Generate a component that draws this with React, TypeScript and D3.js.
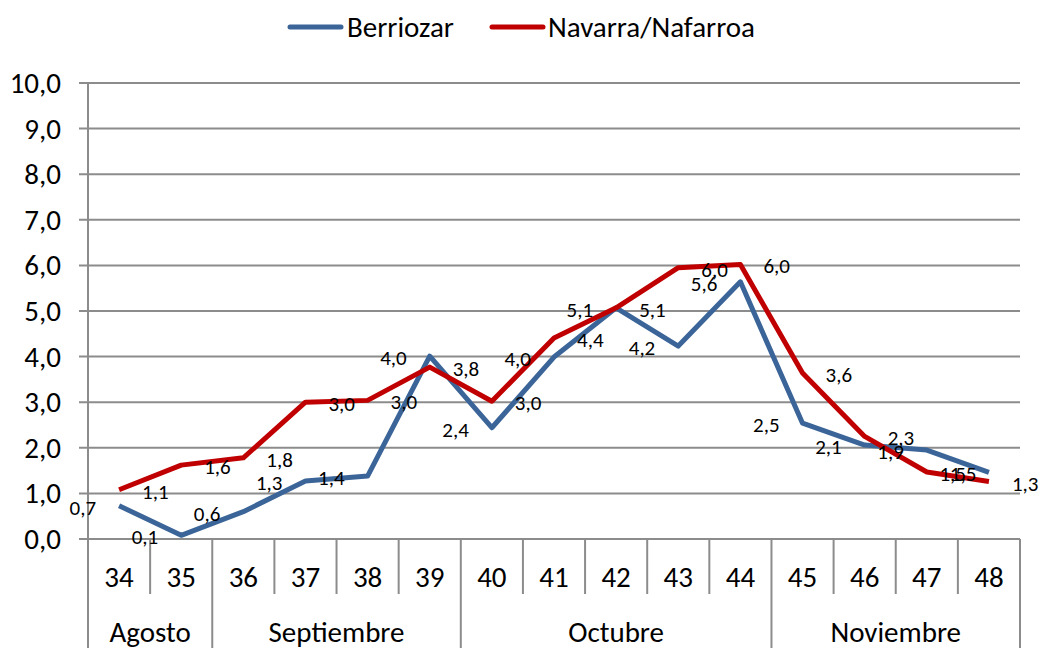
import * as d3 from "d3";

const weeks = ["34", "35", "36", "37", "38", "39", "40", "41", "42", "43", "44", "45", "46", "47", "48"];
const monthNames = ["Agosto", "Septiembre", "Octubre", "Noviembre"];
const monthSpans = [2, 4, 5, 4];
const berriozar = [0.73, 0.08, 0.6, 1.27, 1.38, 4.01, 2.44, 3.99, 5.07, 4.23, 5.64, 2.54, 2.06, 1.95, 1.46];
const navarra = [1.08, 1.62, 1.78, 3.0, 3.04, 3.77, 3.02, 4.41, 5.07, 5.95, 6.02, 3.64, 2.25, 1.47, 1.26];
const yTicks = [0, 1, 2, 3, 4, 5, 6, 7, 8, 9, 10];

const W = 1041;
const H = 648;
const FONT = "Calibri, Carlito, 'Liberation Sans', Arial, sans-serif";
const BLUE = "#3b6598";
const RED = "#c00000";
const GRID = "#8c8c8c";
const BIG = 29;
const SMALL = 21;

const fmt = (v: number) => d3.format(".1f")(v).replace(".", ",");

export default function App() {
  const x = d3.scaleBand<string>().domain(weeks).range([88, 1020]).padding(0);
  const y = d3.scaleLinear().domain([0, 10]).range([539, 83]);
  const cx = (w: string) => (x(w) ?? 0) + x.bandwidth() / 2;

  const line = d3
    .line<number>()
    .x((_, i) => cx(weeks[i]))
    .y((d) => y(d));

  // index of the first week of each month
  const starts: number[] = [];
  monthSpans.reduce((acc, n) => {
    starts.push(acc);
    return acc + n;
  }, 0);

  const series = [
    { name: "Berriozar", values: berriozar, color: BLUE, side: -1 },
    { name: "Navarra/Nafarroa", values: navarra, color: RED, side: 1 },
  ];

  return (
    <svg
      width={W}
      height={H}
      style={{ position: "absolute", left: 0, top: 0, background: "#fff" }}
      fontFamily={FONT}
    >
      {/* legend */}
      <g>
        <line x1={290} x2={341} y1={27} y2={27} stroke={BLUE} strokeWidth={5} strokeLinecap="round" />
        <text x={347} y={27} dominantBaseline="central" fontSize={BIG} fill="#000">Berriozar</text>
        <line x1={492} x2={543} y1={27} y2={27} stroke={RED} strokeWidth={5} strokeLinecap="round" />
        <text x={548} y={27} dominantBaseline="central" fontSize={BIG} fill="#000">Navarra/Nafarroa</text>
      </g>

      {/* grid + y axis */}
      {yTicks.map((t) => (
        <g key={t}>
          <line x1={79} x2={1020} y1={y(t)} y2={y(t)} stroke={GRID} strokeWidth={2} />
          <text x={61} y={y(t)} textAnchor="end" dominantBaseline="central" fontSize={BIG} fill="#000">
            {fmt(t)}
          </text>
        </g>
      ))}
      <line x1={88} x2={88} y1={y(10)} y2={H} stroke={GRID} strokeWidth={2} />

      {/* category axis */}
      {weeks.map((w, i) => {
        const isStart = starts.includes(i);
        const x0 = x(w) ?? 0;
        return (
          <g key={w}>
            {i > 0 && (
              <line x1={x0} x2={x0} y1={539} y2={isStart ? H : 594} stroke={GRID} strokeWidth={2} />
            )}
            <text x={cx(w)} y={577} textAnchor="middle" dominantBaseline="central" fontSize={BIG} fill="#000">
              {w}
            </text>
          </g>
        );
      })}
      <line x1={1020} x2={1020} y1={539} y2={H} stroke={GRID} strokeWidth={2} />
      {monthNames.map((m, k) => {
        const a = x(weeks[starts[k]]) ?? 0;
        const b = a + monthSpans[k] * x.bandwidth();
        return (
          <text key={m} x={(a + b) / 2} y={632} textAnchor="middle" dominantBaseline="central" fontSize={BIG} fill="#000">
            {m}
          </text>
        );
      })}

      {/* lines */}
      {series.map((s) => (
        <path
          key={s.name}
          d={line(s.values) ?? ""}
          fill="none"
          stroke={s.color}
          strokeWidth={5}
          strokeLinejoin="round"
        />
      ))}

      {/* data labels */}
      {series.map((s) =>
        s.values.map((v, i) => (
          <text
            key={s.name + i}
            x={cx(weeks[i]) + s.side * 23}
            y={y(v) + 2}
            textAnchor={s.side < 0 ? "end" : "start"}
            dominantBaseline="central"
            fontSize={SMALL}
            fill="#000"
          >
            {fmt(v)}
          </text>
        ))
      )}
    </svg>
  );
}
